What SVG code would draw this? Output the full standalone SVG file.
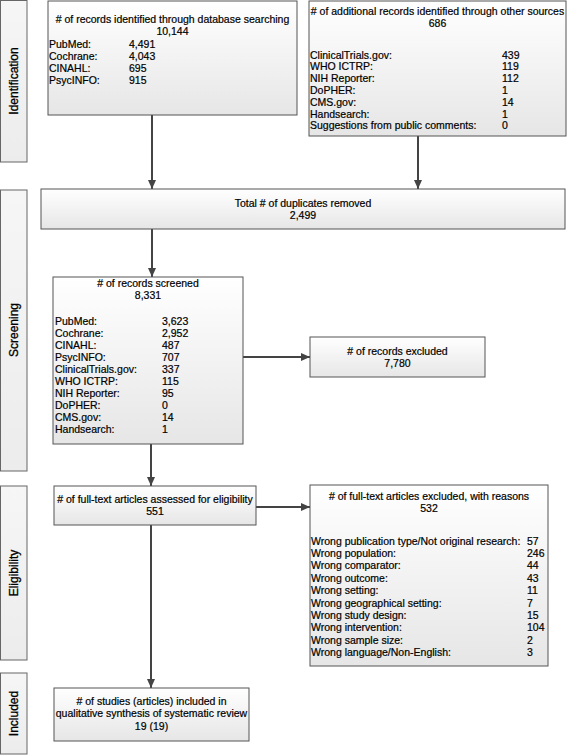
<svg xmlns="http://www.w3.org/2000/svg" width="567" height="756" viewBox="0 0 567 756">
<defs>
<linearGradient id="gb" x1="0" y1="0" x2="0" y2="1">
<stop offset="0" stop-color="#ffffff"/>
<stop offset="1" stop-color="#e6e6e6"/>
</linearGradient>
<linearGradient id="gs" x1="0" y1="0" x2="0" y2="1">
<stop offset="0" stop-color="#f6f6f6"/>
<stop offset="1" stop-color="#ececec"/>
</linearGradient>
<marker id="ah" markerWidth="10" markerHeight="10" refX="9" refY="5" orient="auto" markerUnits="userSpaceOnUse">
<path d="M0,1 L9,5 L0,9 Z" fill="#444"/>
</marker>
<style>
.box{fill:url(#gb);stroke:#555;stroke-width:1}
.side{fill:url(#gs);stroke:#666;stroke-width:1}
text{font-family:"Liberation Sans",Arial,sans-serif;font-size:10.5px;fill:#000;stroke:#000;stroke-width:0.2}
.c{text-anchor:middle}
.sl{font-size:12px;text-anchor:middle;stroke-width:0.3}
.con{stroke:#444;stroke-width:2;fill:none;marker-end:url(#ah)}
</style>
</defs>

<g id="side-identification">
<rect class="side" x="0.5" y="0.5" width="26.5" height="161.5"/>
<text class="sl" transform="translate(18,81) rotate(-90)">Identification</text>
</g>
<g id="side-screening">
<rect class="side" x="0.5" y="190" width="26.5" height="281"/>
<text class="sl" transform="translate(18,330) rotate(-90)">Screening</text>
</g>
<g id="side-eligibility">
<rect class="side" x="0.5" y="486" width="26.5" height="174"/>
<text class="sl" transform="translate(18,573) rotate(-90)">Eligibility</text>
</g>
<g id="side-included">
<rect class="side" x="0.5" y="673" width="26.5" height="81"/>
<text class="sl" transform="translate(18,713.5) rotate(-90)">Included</text>
</g>

<g id="connectors">
<line class="con" x1="152" y1="115" x2="152" y2="189"/>
<line class="con" x1="418" y1="136" x2="418" y2="189"/>
<line class="con" x1="152" y1="229" x2="152" y2="277"/>
<line class="con" x1="243" y1="357" x2="310" y2="357"/>
<line class="con" x1="151" y1="444" x2="151" y2="486"/>
<line class="con" x1="256" y1="507" x2="310" y2="507"/>
<line class="con" x1="151" y1="525" x2="151" y2="688"/>
</g>

<g id="db-search">
<rect class="box" x="48" y="1" width="249" height="114"/>
<text class="c" x="172.5" y="23">
# of records identified through database searching</text>
<text class="c" x="172.5" y="35.4">10,144</text>
<text x="49" y="47.8">PubMed:</text><text x="129" y="47.8">4,491</text>
<text x="49" y="59.8">Cochrane:</text><text x="129" y="59.8">4,043</text>
<text x="49" y="71.8">CINAHL:</text><text x="129" y="71.8">695</text>
<text x="49" y="83.8">PsycINFO:</text><text x="129" y="83.8">915</text>
</g>

<g id="other-sources">
<rect class="box" x="309" y="1" width="257" height="135"/>
<text class="c" x="437.5" y="15">
# of additional records identified through other sources</text>
<text class="c" x="437.5" y="27">686</text>
<text x="310" y="58.5">ClinicalTrials.gov:</text><text x="502" y="58.5">439</text>
<text x="310" y="70.3">WHO ICTRP:</text><text x="502" y="70.3">119</text>
<text x="310" y="82.1">NIH Reporter:</text><text x="502" y="82.1">112</text>
<text x="310" y="93.9">DoPHER:</text><text x="502" y="93.9">1</text>
<text x="310" y="105.7">CMS.gov:</text><text x="502" y="105.7">14</text>
<text x="310" y="117.5">Handsearch:</text><text x="502" y="117.5">1</text>
<text x="310" y="129.3">Suggestions from public comments:</text><text x="502" y="129.3">0</text>
</g>

<g id="duplicates">
<rect class="box" x="41" y="189" width="524" height="40"/>
<text class="c" x="303" y="206.5">Total # of duplicates removed</text>
<text class="c" x="303" y="218.9">2,499</text>
</g>

<g id="screened">
<rect class="box" x="53" y="277" width="190" height="167"/>
<text class="c" x="148" y="286.5">
# of records screened</text>
<text class="c" x="148" y="298.9">8,331</text>
<text x="55" y="324.8">PubMed:</text><text x="162" y="324.8">3,623</text>
<text x="55" y="336.8">Cochrane:</text><text x="162" y="336.8">2,952</text>
<text x="55" y="348.8">CINAHL:</text><text x="162" y="348.8">487</text>
<text x="55" y="360.8">PsycINFO:</text><text x="162" y="360.8">707</text>
<text x="55" y="372.8">ClinicalTrials.gov:</text><text x="162" y="372.8">337</text>
<text x="55" y="384.8">WHO ICTRP:</text><text x="162" y="384.8">115</text>
<text x="55" y="396.8">NIH Reporter:</text><text x="162" y="396.8">95</text>
<text x="55" y="408.8">DoPHER:</text><text x="162" y="408.8">0</text>
<text x="55" y="420.8">CMS.gov:</text><text x="162" y="420.8">14</text>
<text x="55" y="432.8">Handsearch:</text><text x="162" y="432.8">1</text>
</g>

<g id="excluded-records">
<rect class="box" x="310" y="337" width="175" height="40"/>
<text class="c" x="397.5" y="355">
# of records excluded</text>
<text class="c" x="397.5" y="367.4">7,780</text>
</g>

<g id="assessed">
<rect class="box" x="54" y="486" width="202" height="39"/>
<text class="c" x="155" y="503">
# of full-text articles assessed for eligibility</text>
<text class="c" x="155" y="515.4">551</text>
</g>

<g id="excluded-fulltext">
<rect class="box" x="310" y="485" width="238" height="181"/>
<text class="c" x="429" y="499.5">
# of full-text articles excluded, with reasons</text>
<text class="c" x="429" y="511.9">532</text>
<text x="311" y="544.5">Wrong publication type/Not original research:</text><text x="527" y="544.5">57</text>
<text x="311" y="556.9">Wrong population:</text><text x="527" y="556.9">246</text>
<text x="311" y="569.3">Wrong comparator:</text><text x="527" y="569.3">44</text>
<text x="311" y="581.7">Wrong outcome:</text><text x="527" y="581.7">43</text>
<text x="311" y="594.1">Wrong setting:</text><text x="527" y="594.1">11</text>
<text x="311" y="606.5">Wrong geographical setting:</text><text x="527" y="606.5">7</text>
<text x="311" y="618.9">Wrong study design:</text><text x="527" y="618.9">15</text>
<text x="311" y="631.3">Wrong intervention:</text><text x="527" y="631.3">104</text>
<text x="311" y="643.7">Wrong sample size:</text><text x="527" y="643.7">2</text>
<text x="311" y="656.1">Wrong language/Non-English:</text><text x="527" y="656.1">3</text>
</g>

<g id="included">
<rect class="box" x="54" y="688" width="195" height="53"/>
<text class="c" x="151.5" y="705">
# of studies (articles) included in</text>
<text class="c" x="151.5" y="717.4">qualitative synthesis of systematic review</text>
<text class="c" x="151.5" y="729.8">19 (19)</text>
</g>
</svg>
